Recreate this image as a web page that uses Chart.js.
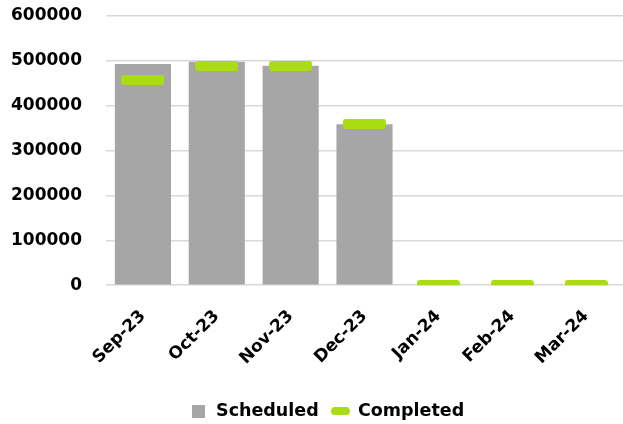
<!DOCTYPE html>
<html>
<head>
<meta charset="utf-8">
<script src="https://cdn.jsdelivr.net/npm/chart.js@4"></script>
<style>
  html, body { margin: 0; padding: 0; background: #fff; }
  #wrap { width: 623px; height: 424px; overflow: hidden; }
</style>
</head>
<body>
<div id="wrap"><canvas id="myChart" width="628" height="424"></canvas></div>
<script>
const months = ['Sep-23', 'Oct-23', 'Nov-23', 'Dec-23', 'Jan-24', 'Feb-24', 'Mar-24'];
const scheduled = [493000, 498000, 489000, 359000, 0, 0, 0];
const completed = [458000, 489000, 489000, 360000, 0, 0, 0];
const yTicks = [0, 100000, 200000, 300000, 400000, 500000, 600000];

const GRAY = '#a6a6a6';
const GREEN = '#aadc12';
const FONT = 'DejaVu Sans';

// little canvas used as the point marker (wide rounded dash)
const makeDash = (w, h, r) => {
    const c = document.createElement('canvas');
    c.width = w;
    c.height = h;
    const g = c.getContext('2d');
    g.fillStyle = GREEN;
    g.beginPath();
    g.roundRect(0, 0, w, h, r);
    g.fill();
    return c;
};
const makeSquare = (s) => {
    const c = document.createElement('canvas');
    c.width = s;
    c.height = s;
    const g = c.getContext('2d');
    g.fillStyle = GRAY;
    g.fillRect(0, 0, s, s);
    return c;
};

const dashMarker = makeDash(43, 10, 3);
const legendDash = makeDash(19, 8, 4);
const legendSquare = makeSquare(13);

// nudge the legend down/right a bit, like in the original
const legendNudge = {
    id: 'legendNudge',
    afterLayout(chart) {
        const lg = chart.legend;
        lg.top += 8;
        lg.bottom += 8;
        lg.left += 11;
        lg.right += 11;
    }
};

const ctx = document.getElementById('myChart').getContext('2d');
new Chart(ctx, {
    type: 'bar',
    data: {
        labels: months,
        datasets: [
            {
                label: 'Scheduled',
                data: scheduled,
                backgroundColor: GRAY,
                barPercentage: 0.76,
                categoryPercentage: 1,
                order: 2
            },
            {
                type: 'line',
                label: 'Completed',
                data: completed,
                showLine: false,
                pointStyle: dashMarker,
                borderColor: GREEN,
                backgroundColor: GREEN,
                order: 1
            }
        ]
    },
    options: {
        responsive: false,
        animation: false,
        layout: { padding: { left: 4, right: 0, top: 16, bottom: 2 } },
        plugins: {
            tooltip: { enabled: false },
            legend: {
                position: 'bottom',
                labels: {
                    usePointStyle: true,
                    boxWidth: 19,
                    boxHeight: 13,
                    padding: 13,
                    color: '#000',
                    font: { family: FONT, size: 17.5, weight: 'bold' },
                    generateLabels: () => [
                        { text: 'Scheduled', pointStyle: legendSquare, fillStyle: GRAY, strokeStyle: GRAY, lineWidth: 0, datasetIndex: 0 },
                        { text: 'Completed', pointStyle: legendDash, fillStyle: GREEN, strokeStyle: GREEN, lineWidth: 0, datasetIndex: 1 }
                    ]
                }
            }
        },
        scales: {
            x: {
                grid: { display: false },
                border: { display: false },
                afterFit: (axis) => {
                    axis.paddingLeft = 0;
                    axis.paddingRight = 0;
                },
                ticks: {
                    color: '#000',
                    minRotation: 45,
                    maxRotation: 45,
                    padding: 13,
                    font: { family: FONT, size: 17, weight: 'bold' }
                }
            },
            y: {
                min: 0,
                max: 600000,
                afterBuildTicks: (axis) => { axis.ticks = yTicks.map(v => ({ value: v })); },
                afterFit: (axis) => {
                    axis.width = 102;
                    axis.paddingTop = 0;
                    axis.paddingBottom = 0;
                },
                border: { display: false },
                grid: { color: '#d9d9d9', lineWidth: 1.5, drawTicks: false },
                ticks: {
                    color: '#000',
                    padding: 24,
                    callback: (v) => String(v),
                    font: { family: FONT, size: 17, weight: 'bold' }
                }
            }
        }
    },
    plugins: [legendNudge]
});
</script>
</body>
</html>
